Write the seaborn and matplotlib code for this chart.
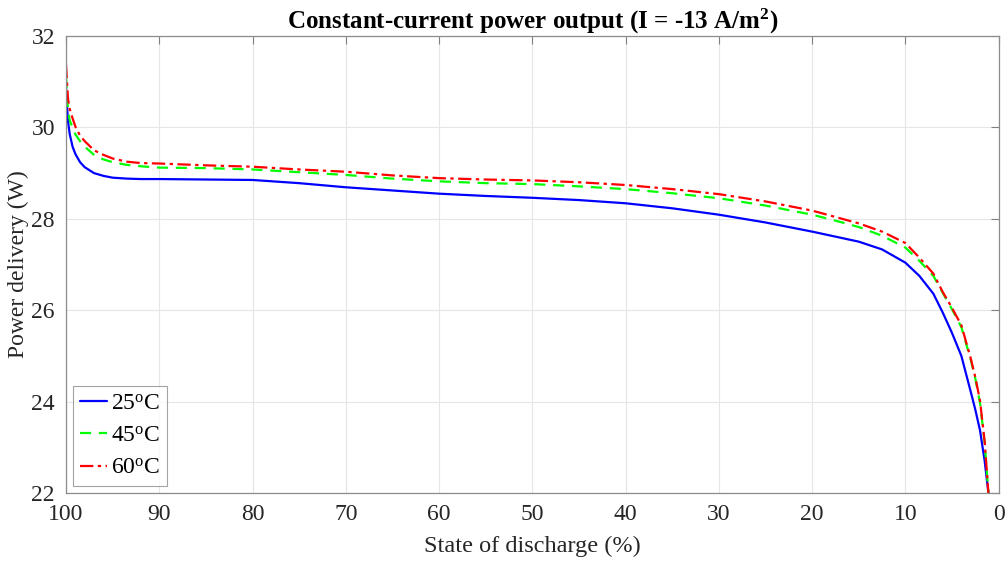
import matplotlib
matplotlib.use("Agg")
import matplotlib.pyplot as plt
import seaborn as sns
import pandas as pd

# ---- data ----
sod = [100, 99.8, 99.6, 99.3, 99.0, 98.5, 98.0, 97.0, 96.0, 95.0, 93.5, 92, 90, 85, 80,
       75, 70, 65, 60, 55, 50, 45, 40, 35, 30, 25, 20, 17.5, 15, 12.5, 10, 8.5, 7, 6,
       5, 4, 3, 2.5, 2, 1.5, 1.1]

p25 = [30.85, 30.15, 29.85, 29.58, 29.42, 29.24, 29.13, 29.0, 28.94, 28.9, 28.88, 28.87,
       28.87, 28.86, 28.85, 28.78, 28.69, 28.62, 28.55, 28.5, 28.46, 28.41, 28.34, 28.23,
       28.09, 27.92, 27.72, 27.61, 27.5, 27.33, 27.04, 26.75, 26.36, 25.95, 25.5, 25.0,
       24.22, 23.82, 23.37, 22.7, 22.0]

p45 = [31.1, 30.4, 30.15, 30.0, 29.85, 29.7, 29.58, 29.4, 29.3, 29.24, 29.18, 29.15,
       29.12, 29.11, 29.08, 29.02, 28.96, 28.88, 28.82, 28.78, 28.76, 28.71, 28.65, 28.56,
       28.45, 28.29, 28.09, 27.96, 27.82, 27.63, 27.37, 27.08, 26.75, 26.38, 26.02, 25.63,
       24.92, 24.5, 23.97, 23.1, 22.0]

p60 = [31.37, 30.65, 30.4, 30.2, 30.02, 29.82, 29.7, 29.5, 29.4, 29.32, 29.25, 29.22,
       29.21, 29.17, 29.14, 29.08, 29.03, 28.95, 28.89, 28.86, 28.84, 28.8, 28.74, 28.65,
       28.54, 28.38, 28.18, 28.04, 27.9, 27.72, 27.47, 27.15, 26.8, 26.4, 26.05, 25.67,
       24.95, 24.53, 24.02, 23.12, 22.0]

labels = ["25$^{\\mathrm{o}}$C", "45$^{\\mathrm{o}}$C", "60$^{\\mathrm{o}}$C"]
xticks = [100, 90, 80, 70, 60, 50, 40, 30, 20, 10, 0]
yticks = [22, 24, 26, 28, 30, 32]

title = "Constant-current power output (I = -13 A/m$^{\\mathbf{2}}$)"
xlabel = "State of discharge (%)"
ylabel = "Power delivery (W)"

# ---- style ----
sns.set_theme(style="white")
plt.rcParams["font.family"] = ["Liberation Serif", "DejaVu Serif"]
plt.rcParams["mathtext.fontset"] = "custom"
plt.rcParams["mathtext.rm"] = "Liberation Serif"
plt.rcParams["mathtext.it"] = "Liberation Serif:italic"
plt.rcParams["mathtext.bf"] = "Liberation Serif:bold"

fig = plt.figure(figsize=(10.05, 5.61), dpi=100)
ax = fig.add_axes([0.0657, 0.1212, 0.9280, 0.8146])

series = [p25, p45, p60]
colors = ["#0000ff", "#00ff00", "#ff0000"]
styles = ["-", (0, (5, 3.5)), (0, (6, 2, 1.5, 2))]

for vals, lab, col, ls in zip(series, labels, colors, styles):
    df = pd.DataFrame({"sod": sod, "p": vals})
    sns.lineplot(data=df, x="sod", y="p", ax=ax, color=col, label=lab,
                 linewidth=1.6, sort=False, estimator=None)
    ax.lines[-1].set_linestyle(ls)

ax.set_xlim(100, 0)
ax.set_ylim(22, 32)
ax.set_xticks(xticks)
ax.set_yticks(yticks)
ax.grid(True, color="#e6e6e6", linewidth=0.8)
ax.tick_params(direction="in", length=6, width=0.8, color="#808080",
               top=True, right=True, labelsize=17, pad=8, labelcolor="#262626")
for s in ax.spines.values():
    s.set_color("#8c8c8c")
    s.set_linewidth(0.9)

ax.set_xlabel(xlabel, fontsize=17.5, color="#262626", labelpad=8)
ax.set_ylabel(ylabel, fontsize=17, color="#262626", labelpad=1.5)
ax.set_title(title, fontsize=18, fontweight="bold", color="black", pad=5)

leg = ax.legend(loc="lower left", fontsize=17, frameon=True, fancybox=False,
                edgecolor="#8c8c8c", handlelength=1.15, handletextpad=0.15,
                borderpad=0.3, labelspacing=0.45, borderaxespad=0.3)
leg.get_frame().set_linewidth(0.8)
for t in leg.get_texts():
    t.set_color("black")

fig.savefig("out.png", dpi=100)
